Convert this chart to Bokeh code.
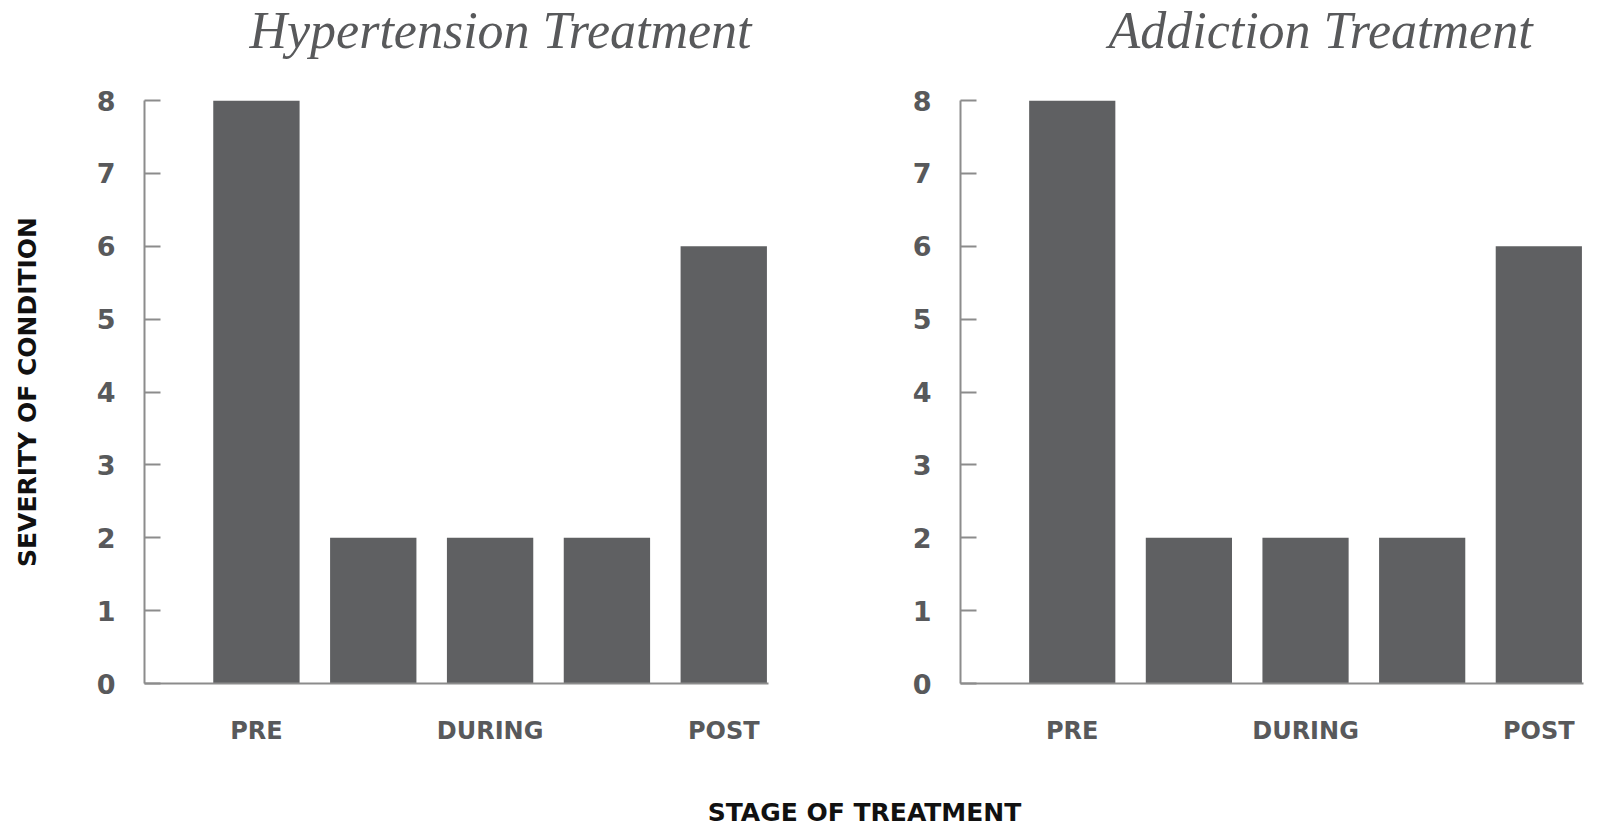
from bokeh.plotting import figure
from bokeh.models import Range1d, FixedTicker
from bokeh.layouts import row, column
from bokeh.embed import file_html
from bokeh.resources import INLINE
from bokeh.core.properties import value

# ---- data ----
positions = [1, 2, 3, 4, 5]
tick_positions = [1, 3, 5]
tick_labels = ["PRE", "DURING", "POST"]
hypertension = [8, 2, 2, 2, 6]
addiction = [8, 2, 2, 2, 6]
y_ticks = [0, 1, 2, 3, 4, 5, 6, 7, 8]
titles = ["Hypertension Treatment", "Addiction Treatment"]
y_label = "SEVERITY OF CONDITION"
x_label = "STAGE OF TREATMENT"

# ---- style ----
BAR = "#5f6062"
AXIS = "#8c8c8c"
TICKTXT = "#58595b"
TITLE = "#58595b"
LABEL = "#111111"
SANS = "DejaVu Sans"
SERIF = "Liberation Serif"
W = 1612


def strip(height):
    s = figure(width=W, height=height, output_backend="svg", toolbar_location=None,
               x_range=Range1d(0, W), y_range=Range1d(0, height),
               x_axis_type=None, y_axis_type=None, min_border=0)
    s.grid.visible = False
    s.outline_line_color = None
    return s


def panel(values, width, mbl, mbr, ylabel):
    p = figure(width=width, height=710, output_backend="svg", toolbar_location=None,
               x_range=Range1d(0.042, 5.383), y_range=Range1d(0, 8),
               min_border_left=mbl, min_border_right=mbr,
               min_border_top=40, min_border_bottom=87)
    p.vbar(x=positions, top=values, width=0.739, fill_color=BAR, line_color=None)
    p.grid.visible = False
    p.outline_line_color = None
    p.background_fill_color = "white"
    p.border_fill_color = "white"

    xa = p.xaxis[0]
    xa.ticker = FixedTicker(ticks=tick_positions)
    xa.major_label_overrides = {t: l for t, l in zip(tick_positions, tick_labels)}
    xa.major_tick_line_color = None
    xa.minor_tick_line_color = None
    xa.axis_line_color = AXIS
    xa.axis_line_width = 2
    xa.major_label_standoff = 27
    xa.major_label_text_font = SANS
    xa.major_label_text_font_style = "bold"
    xa.major_label_text_font_size = "24px"
    xa.major_label_text_color = TICKTXT

    ya = p.yaxis[0]
    ya.ticker = FixedTicker(ticks=y_ticks)
    ya.minor_tick_line_color = None
    ya.major_tick_in = 16
    ya.major_tick_out = 0
    ya.major_tick_line_color = AXIS
    ya.major_tick_line_width = 2
    ya.axis_line_color = AXIS
    ya.axis_line_width = 2
    ya.major_label_standoff = 29
    ya.major_label_text_font = SANS
    ya.major_label_text_font_style = "bold"
    ya.major_label_text_font_size = "27px"
    ya.major_label_text_color = TICKTXT
    if ylabel:
        ya.axis_label = y_label
        ya.axis_label_standoff = 52
        ya.axis_label_text_font = SANS
        ya.axis_label_text_font_style = "bold"
        ya.axis_label_text_font_size = "25px"
        ya.axis_label_text_color = LABEL
    return p


# titles strip
p0 = strip(60)
p0.text(x=[500, 1320], y=[30, 30], text=titles, text_align="center",
        text_baseline="middle", text_font=value(SERIF), text_font_style="italic",
        text_font_size="52px", text_color=TITLE)

p1 = panel(hypertension, 808, 144, 40, True)
p2 = panel(addiction, 804, 152, 29, False)

# bottom axis-title strip
p3 = strip(61)
p3.text(x=[864], y=[19], text=[x_label], text_align="center", text_baseline="middle",
        text_font=value(SANS), text_font_style="bold", text_font_size="25px",
        text_color=LABEL)

layout = column(p0, row(p1, p2), p3)
open("out.html", "w").write(file_html(layout, INLINE))
